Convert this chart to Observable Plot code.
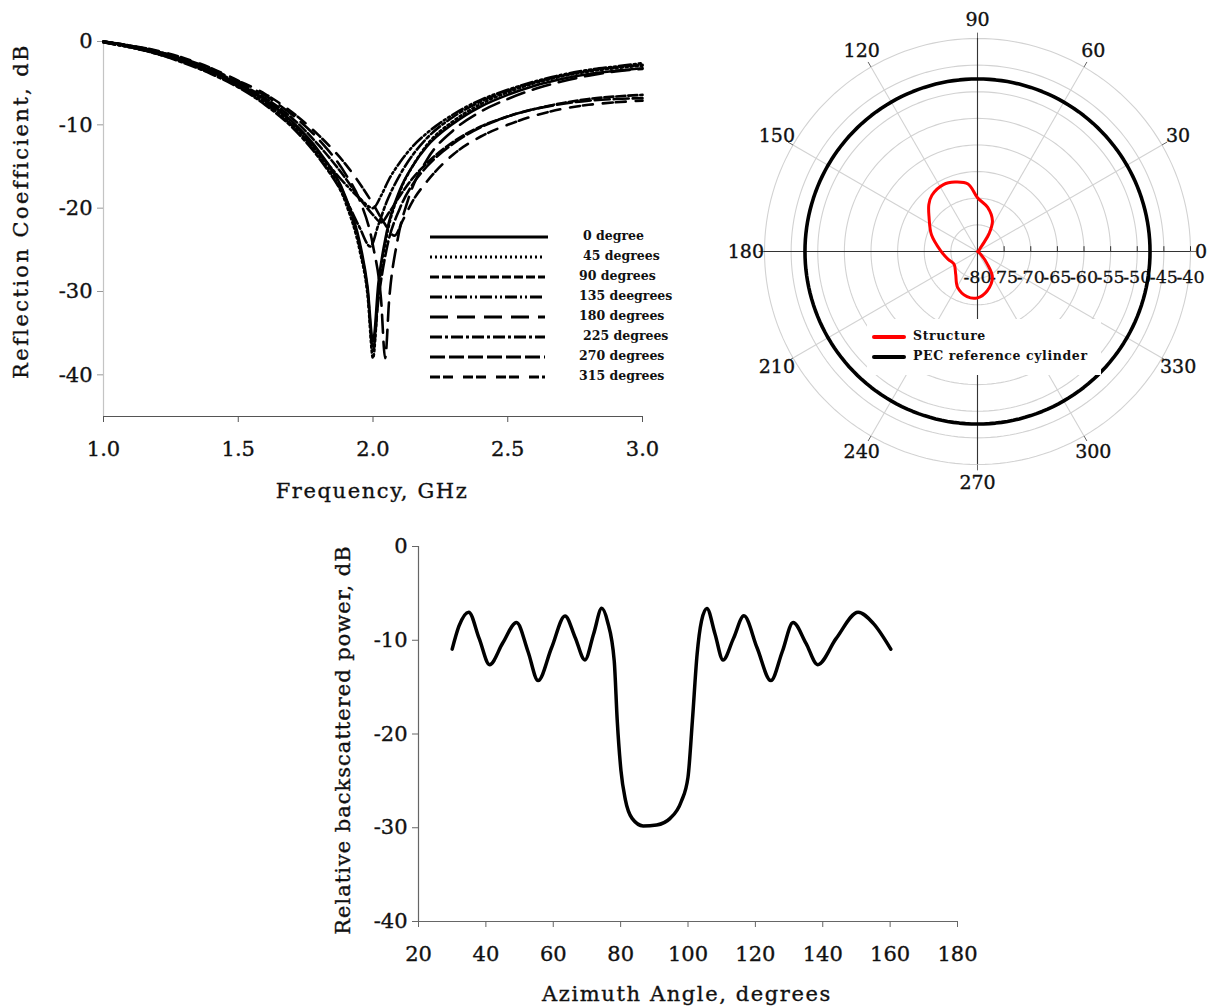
<!DOCTYPE html>
<html>
<head>
<meta charset="utf-8">
<script src="https://cdn.jsdelivr.net/npm/d3@7"></script>
<script src="https://cdn.jsdelivr.net/npm/@observablehq/plot@0.6"></script>
<style>
html,body{margin:0;padding:0;background:#fff;}
#root{position:relative;width:1210px;height:1006px;overflow:hidden;font-family:"DejaVu Serif",serif;color:#111;}
.panel{position:absolute;}
.panel svg{overflow:visible;}
.axlabel{position:absolute;font-family:"DejaVu Serif",serif;font-size:21px;letter-spacing:1.6px;white-space:nowrap;color:#111;line-height:1;-webkit-text-stroke:0.35px #111;}
.rot{transform:translate(-50%,-50%) rotate(-90deg);}
.hcenter{transform:translate(-50%,-50%);}
.leg{position:absolute;font-family:"DejaVu Serif",serif;font-weight:bold;font-size:12.5px;color:#111;white-space:nowrap;line-height:1;}
#leg2{position:absolute;background:#fff;}
</style>
</head>
<body>
<div id="root"></div>
<script>
// ---------- Chart 1: reflection coefficient vs frequency ----------
const rcXTicks = [1.0, 1.5, 2.0, 2.5, 3.0];
const rcYTicks = [0, -10, -20, -30, -40];
const rcNames = ["0 degree", "45 degrees", "90 degrees", "135 deegrees", "180 degrees", "225 degrees", "270 degrees", "315 degrees"];

const rc0 = [[1.0,0],[1.1,-0.6],[1.2,-1.3],[1.3,-2.3],[1.4,-3.5],[1.5,-5.1],[1.6,-7.0],[1.7,-9.6],[1.8,-13.2],[1.9,-18.8],[1.95,-24],[1.98,-29.5],[2.0,-36],[2.02,-29],[2.05,-23],[2.1,-17.8],[2.15,-14.8],[2.2,-12.6],[2.3,-9.8],[2.4,-7.8],[2.5,-6.4],[2.6,-5.3],[2.7,-4.5],[2.8,-3.9],[2.9,-3.5],[3.0,-3.2]];
const rc45 = [[1.0,-0.1],[1.1,-0.7],[1.2,-1.4],[1.3,-2.4],[1.4,-3.7],[1.5,-5.3],[1.6,-7.3],[1.7,-10.0],[1.8,-13.8],[1.9,-19.5],[1.95,-25],[1.98,-30.5],[2.0,-38],[2.02,-30],[2.05,-23.5],[2.1,-18],[2.15,-14.8],[2.2,-12.4],[2.3,-9.5],[2.4,-7.5],[2.5,-6.1],[2.6,-5.0],[2.7,-4.2],[2.8,-3.6],[2.9,-3.2],[3.0,-2.9]];
const rc90 = [[1.0,0],[1.1,-0.5],[1.2,-1.2],[1.3,-2.2],[1.4,-3.4],[1.5,-5.0],[1.6,-6.8],[1.7,-9.2],[1.8,-12.5],[1.9,-16.5],[1.95,-18.8],[2.0,-20.8],[2.03,-21.7],[2.06,-20.5],[2.1,-18.5],[2.15,-16.3],[2.2,-14.6],[2.3,-12.0],[2.4,-10.2],[2.5,-9.0],[2.6,-8.1],[2.7,-7.4],[2.8,-6.9],[2.9,-6.6],[3.0,-6.4]];
const rc135 = [[1.0,-0.1],[1.1,-0.7],[1.2,-1.5],[1.3,-2.5],[1.4,-3.8],[1.5,-5.4],[1.6,-7.4],[1.7,-10.1],[1.8,-13.5],[1.9,-17.2],[1.95,-18.8],[2.0,-20],[2.03,-18.5],[2.06,-16.5],[2.1,-14.5],[2.15,-12.5],[2.2,-11],[2.3,-8.7],[2.4,-7.0],[2.5,-5.8],[2.6,-4.8],[2.7,-4.0],[2.8,-3.4],[2.9,-3.0],[3.0,-2.6]];
const rc180 = [[1.0,0],[1.1,-0.5],[1.2,-1.2],[1.3,-2.1],[1.4,-3.3],[1.5,-4.8],[1.6,-6.5],[1.7,-8.8],[1.8,-11.8],[1.9,-16],[1.95,-19],[2.0,-24.5],[2.03,-31],[2.045,-38],[2.06,-31],[2.09,-24],[2.13,-19],[2.2,-14.2],[2.3,-10.6],[2.4,-8.4],[2.5,-6.9],[2.6,-5.7],[2.7,-4.8],[2.8,-4.1],[2.9,-3.6],[3.0,-3.3]];
const rc225 = [[1.0,-0.1],[1.1,-0.7],[1.2,-1.5],[1.3,-2.6],[1.4,-3.9],[1.5,-5.5],[1.6,-7.6],[1.7,-10.3],[1.8,-14],[1.9,-19],[1.95,-22.3],[1.99,-24.6],[2.02,-22],[2.05,-19.3],[2.1,-16],[2.15,-13.5],[2.2,-11.6],[2.3,-9.0],[2.4,-7.2],[2.5,-5.9],[2.6,-4.9],[2.7,-4.1],[2.8,-3.5],[2.9,-3.1],[3.0,-2.8]];
const rc270 = [[1.0,0],[1.1,-0.6],[1.2,-1.4],[1.3,-2.4],[1.4,-3.6],[1.5,-5.2],[1.6,-7.1],[1.7,-9.7],[1.8,-13.4],[1.9,-19],[1.95,-24.5],[1.98,-30],[2.0,-37],[2.02,-31],[2.05,-25],[2.1,-20],[2.15,-17],[2.2,-15],[2.3,-12.2],[2.4,-10.3],[2.5,-9.0],[2.6,-8.1],[2.7,-7.5],[2.8,-7.1],[2.9,-6.9],[3.0,-6.8]];
const rc315 = [[1.0,0],[1.1,-0.5],[1.2,-1.1],[1.3,-2.0],[1.4,-3.2],[1.5,-4.7],[1.6,-6.3],[1.7,-8.5],[1.8,-11.3],[1.9,-14.8],[1.95,-17],[2.0,-19.5],[2.04,-21.7],[2.08,-23.3],[2.11,-21.5],[2.15,-19],[2.2,-16.8],[2.3,-13.5],[2.4,-11.4],[2.5,-10.0],[2.6,-8.9],[2.7,-8.1],[2.8,-7.6],[2.9,-7.3],[3.0,-7.1]];

// ---------- Chart 2: polar pattern ----------
const polarTicks = [-80, -75, -70, -65, -60, -55, -50, -45, -40];
const polarAngles = [0, 30, 60, 90, 120, 150, 180, 210, 240, 270, 300, 330];
const structAngles = [0, 20, 40, 50, 54, 57, 64, 77, 90, 98, 108, 117, 129, 136, 145, 160, 179, 195, 208, 226, 241, 257, 270, 284, 300, 308, 320, 340];
const structDb = [-80, -79.9, -79.6, -79.2, -78, -76, -73.6, -71.5, -69.9, -67.2, -66.3, -65.9, -66.4, -67.3, -68.9, -70.8, -73.1, -74.3, -75, -74.1, -72.3, -71.3, -71.3, -72.4, -74.4, -77, -79.3, -79.9];
const pecLevel = -47.6;
const polarNames = ["Structure", "PEC reference cylinder"];

// ---------- Chart 3: backscattered power vs azimuth ----------
const azXTicks = [20, 40, 60, 80, 100, 120, 140, 160, 180];
const azYTicks = [0, -10, -20, -30, -40];
const azAngles = [30, 32, 34.9, 38, 41.1, 45, 49.1, 52.5, 55.5, 59.5, 63.5, 66.5, 69.4, 72, 74.4, 76.1, 78.1, 79, 80.1, 81.4, 83.4, 86.7, 90.7, 94.7, 98, 100, 101.3, 102.7, 104, 105.6, 108, 110.4, 113.5, 116.6, 120.5, 124.6, 128, 131.2, 135, 138.5, 144, 150.5, 155, 160.2];
const azPower = [-10.95, -8.5, -7.0, -9.8, -12.6, -10.3, -8.1, -11.2, -14.3, -10.8, -7.4, -9.7, -12.1, -9.3, -6.6, -8.0, -12.2, -18.6, -23.9, -27, -29, -29.8, -29.7, -29.0, -27.2, -24.6, -18.6, -11.5, -7.95, -6.6, -9.3, -12.1, -9.8, -7.4, -10.8, -14.3, -11.2, -8.1, -10.3, -12.6, -9.8, -7.0, -8.2, -10.95];

// ---------- styles (kept separate from data) ----------
const rcSeries = [rc0, rc45, rc90, rc135, rc180, rc225, rc270, rc315];
const rcDash = [null, "2,3", "9,3", "12,3,2,3,2,3", "18,9", "12,3,3,3", "15,4", "10,3,10,10"];
const FONT = "DejaVu Serif";
const root = document.getElementById("root");
const txt = {fill: "#111", stroke: "#111", strokeWidth: 0.35};

function place(el, left, top) {
  const d = document.createElement("div");
  d.className = "panel";
  d.style.left = left + "px";
  d.style.top = top + "px";
  d.appendChild(el);
  root.appendChild(d);
  return d;
}
function label(text, x, y, rotated, extra) {
  const d = document.createElement("div");
  d.className = "axlabel " + (rotated ? "rot" : "hcenter");
  d.textContent = text;
  d.style.left = x + "px";
  d.style.top = y + "px";
  if (extra) Object.assign(d.style, extra);
  root.appendChild(d);
}
const fmt = d => String(d);

// Chart 1
const p1 = Plot.plot({
  width: 680, height: 510,
  marginLeft: 103, marginRight: 38, marginTop: 41, marginBottom: 94,
  x: {domain: [1, 3]},
  y: {domain: [-45, 0]},
  style: {fontFamily: FONT, fontSize: "21px", color: "#111", background: "transparent"},
  marks: [
    Plot.ruleX([1], {y1: -45, y2: 0, stroke: "#c4c4c4", strokeWidth: 1.2}),
    Plot.ruleY([-45], {stroke: "#555", strokeWidth: 1.2}),
    Plot.axisY({ticks: rcYTicks, tickSize: 6, tickPadding: 5, tickFormat: fmt, stroke: "#999", textStroke: "#111", fontSize: 21, label: null}),
    Plot.axisX({ticks: rcXTicks, tickSize: 6, tickPadding: 19, tickFormat: d => d.toFixed(1), stroke: "#555", textStroke: "#111", fontSize: 21, label: null}),
    ...rcSeries.map((s, i) => Plot.line(s, {x: d => d[0], y: d => d[1], stroke: "#000", strokeWidth: 2.6, strokeDasharray: rcDash[i], curve: "monotone-x"}))
  ]
});
place(p1, 0, 0);
label("Frequency, GHz", 372, 491, false);
label("Reflection Coefficient, dB", 21, 211, true, {letterSpacing: "2.4px"});

// legend 1
rcNames.forEach((name, i) => {
  const y = 237 + i * 20;
  const svgNS = "http://www.w3.org/2000/svg";
  const svg = document.createElementNS(svgNS, "svg");
  svg.setAttribute("width", 122); svg.setAttribute("height", 8);
  svg.style.position = "absolute"; svg.style.left = "428px"; svg.style.top = (y - 4) + "px";
  const ln = document.createElementNS(svgNS, "line");
  ln.setAttribute("x1", 2); ln.setAttribute("x2", i === 0 ? 120 : 117);
  ln.setAttribute("y1", 4); ln.setAttribute("y2", 4);
  ln.setAttribute("stroke", "#000"); ln.setAttribute("stroke-width", i === 0 ? 3 : 2.8);
  if (rcDash[i]) ln.setAttribute("stroke-dasharray", rcDash[i]);
  svg.appendChild(ln);
  root.appendChild(svg);
  const t = document.createElement("div");
  t.className = "leg";
  t.textContent = name;
  t.style.left = (i === 0 || i === 1 || i === 5 ? 583 : 579) + "px"; t.style.top = (y - 7) + "px";
  root.appendChild(t);
});

// Chart 2 (polar)
const rMin = -80;
const toX = (a, v) => (v - rMin) * Math.cos(a * Math.PI / 180);
const toY = (a, v) => (v - rMin) * Math.sin(a * Math.PI / 180);
const sweep = d3.range(0, 361, 2);
const rings = polarTicks.slice(1);
const ringPts = rings.flatMap(l => sweep.map(a => ({l, x: toX(a, l), y: toY(a, l)})));
const outerR = polarTicks[polarTicks.length - 1] - rMin;
const structPts = structAngles.map((a, i) => ({x: toX(a, structDb[i]), y: toY(a, structDb[i])}));
const pecPts = sweep.map(a => ({x: toX(a, pecLevel), y: toY(a, pecLevel)}));

const p2 = Plot.plot({
  width: 490, height: 514,
  marginLeft: 44, marginRight: 20, marginTop: 38, marginBottom: 50,
  x: {domain: [-outerR, outerR], axis: null},
  y: {domain: [-outerR, outerR], axis: null},
  style: {fontFamily: FONT, fontSize: "19px", color: "#111", background: "transparent"},
  marks: [
    Plot.line(ringPts, {x: "x", y: "y", z: "l", stroke: "#d2d2d2", strokeWidth: 1.1}),
    Plot.link(polarAngles, {x1: 0, y1: 0, x2: a => toX(a, -40), y2: a => toY(a, -40), stroke: "#d2d2d2", strokeWidth: 1.1}),
    Plot.link(polarAngles, {x1: a => toX(a, -40), y1: a => toY(a, -40), x2: a => toX(a, -38.9), y2: a => toY(a, -38.9), stroke: "#666", strokeWidth: 1}),
    Plot.ruleY([0], {x1: -outerR, x2: outerR, stroke: "#333", strokeWidth: 1.1}),
    Plot.ruleX([0], {y1: -outerR, y2: outerR, stroke: "#333", strokeWidth: 1.1}),
    Plot.link(rings, {x1: v => v - rMin, x2: v => v - rMin, y1: 0, y2: 1, stroke: "#333", strokeWidth: 1}),
    Plot.text(polarTicks, {x: v => v - rMin, y: 0, dy: 26, text: fmt, fontSize: 17.5, ...txt, strokeWidth: 0.3}),
    Plot.text(polarAngles.filter(a => a !== 0), {x: a => toX(a, -36.5), y: a => toY(a, -36.5), text: fmt, fontSize: 19, ...txt}),
    Plot.text(polarAngles.filter(a => a === 0), {x: a => toX(a, -36.5), y: a => toY(a, -36.5), dx: -8, text: fmt, fontSize: 19, ...txt}),
    Plot.line(pecPts, {x: "x", y: "y", stroke: "#000", strokeWidth: 3.6}),
    Plot.line(structPts, {x: "x", y: "y", stroke: "#ff0000", strokeWidth: 3, curve: "catmull-rom-closed"})
  ]
});
place(p2, 720, 0);

// legend 2
const leg2 = document.createElement("div");
leg2.id = "leg2";
Object.assign(leg2.style, {left: "867px", top: "319px", width: "234px", height: "56px"});
root.appendChild(leg2);
const polarColors = ["#ff0000", "#000"];
polarNames.forEach((name, i) => {
  const y = 337 + i * 20;
  const sw = document.createElement("div");
  Object.assign(sw.style, {position: "absolute", left: "872px", top: (y - 2) + "px", width: "34px", height: "4px", background: polarColors[i], borderRadius: "2px"});
  root.appendChild(sw);
  const t = document.createElement("div");
  t.className = "leg";
  t.textContent = name;
  Object.assign(t.style, {left: "913px", top: (y - 7) + "px", fontSize: "12.5px", letterSpacing: "0.6px"});
  root.appendChild(t);
});

// Chart 3
const p3 = Plot.plot({
  width: 687, height: 486,
  marginLeft: 118, marginRight: 30, marginTop: 26, marginBottom: 85,
  x: {domain: [20, 180]},
  y: {domain: [-40, 0]},
  style: {fontFamily: FONT, fontSize: "21px", color: "#111", background: "transparent"},
  marks: [
    Plot.ruleX([20], {y1: -40, y2: 0, stroke: "#666", strokeWidth: 1.2}),
    Plot.ruleY([-40], {stroke: "#666", strokeWidth: 1.2}),
    Plot.axisY({ticks: azYTicks, tickSize: 6, tickPadding: 5, tickFormat: fmt, stroke: "#666", textStroke: "#111", fontSize: 21, label: null}),
    Plot.axisX({ticks: azXTicks, tickSize: 6, tickPadding: 19, tickFormat: fmt, stroke: "#666", textStroke: "#111", fontSize: 21, label: null}),
    Plot.line(azAngles.map((a, i) => [a, azPower[i]]), {x: d => d[0], y: d => d[1], stroke: "#000", strokeWidth: 3.5, curve: "monotone-x"})
  ]
});
place(p3, 300, 520);
label("Azimuth Angle, degrees", 687, 994, false);
label("Relative backscattered power, dB", 343, 740, true, {letterSpacing: "1px"});

// thicken axis tick text slightly, like the reference typeface
document.querySelectorAll("#root svg g[aria-label$='tick label'] text, #root svg g[aria-label$='tick label']").forEach(el => {
  el.setAttribute("stroke", "#111");
  el.setAttribute("stroke-width", "0.35");
  el.setAttribute("fill", "#111");
});
</script>
</body>
</html>
